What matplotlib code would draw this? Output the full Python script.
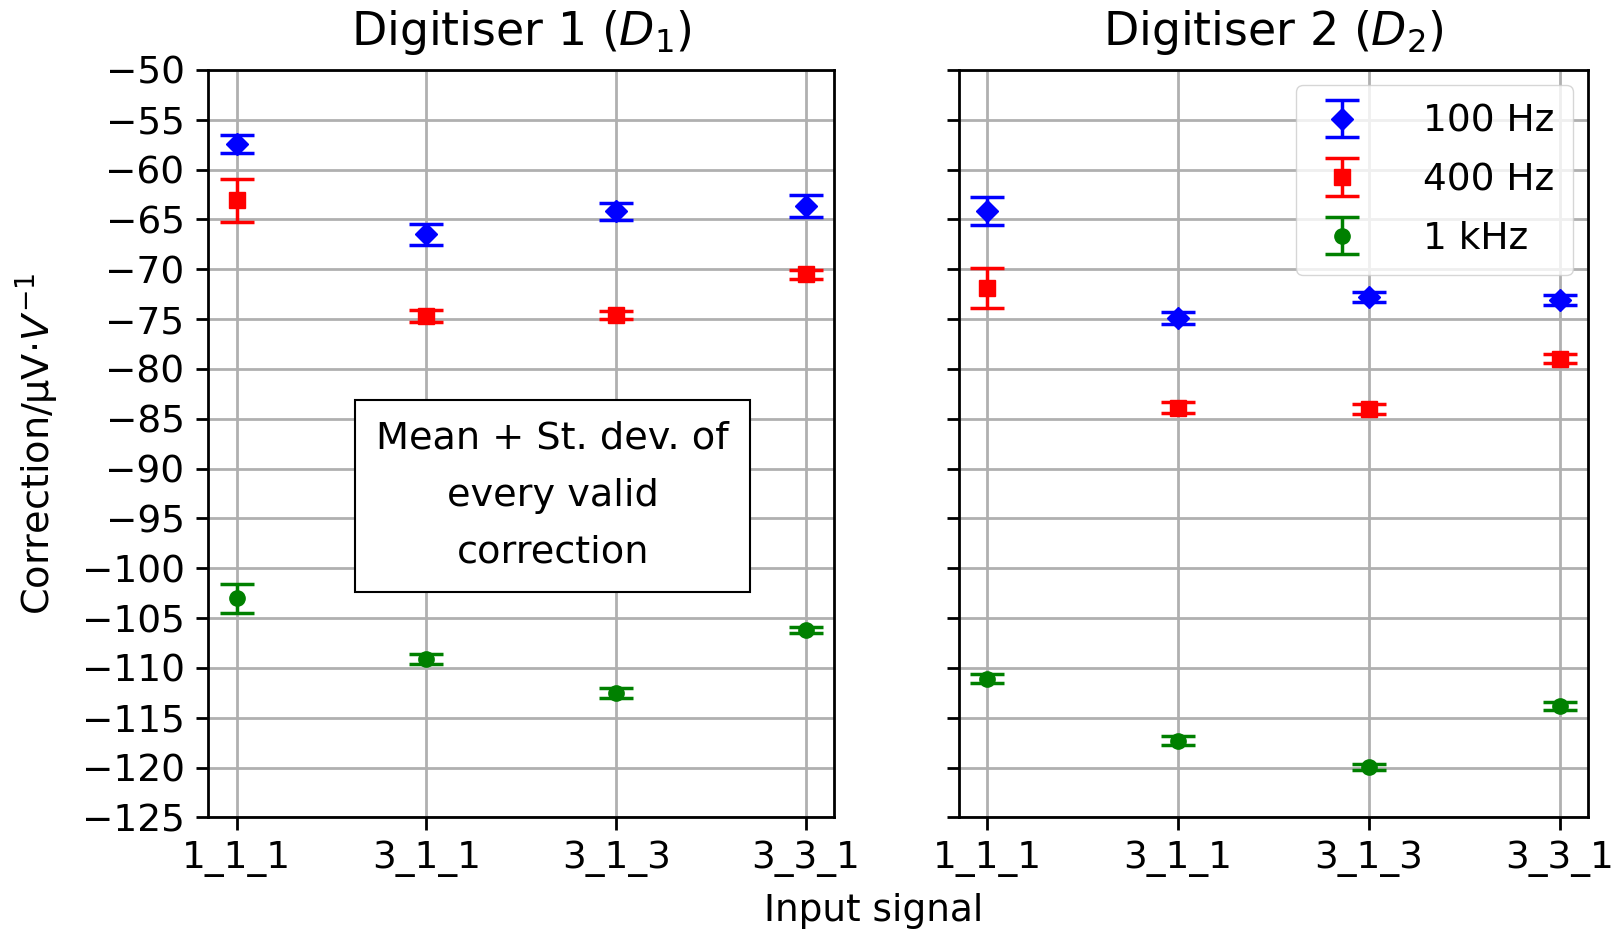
import matplotlib
matplotlib.use("Agg")
import matplotlib.pyplot as plt
import numpy as np

signals = ['1_1_1', '3_1_1', '3_1_3', '3_3_1']

# Digitiser 1
d1_100 = [-57.4, -66.5, -64.2, -63.7]
d1_100_err = [0.9, 1.05, 0.85, 1.1]
d1_400 = [-63.1, -74.7, -74.6, -70.5]
d1_400_err = [2.15, 0.6, 0.4, 0.45]
d1_1k = [-103.0, -109.1, -112.5, -106.2]
d1_1k_err = [1.45, 0.5, 0.5, 0.35]

# Digitiser 2
d2_100 = [-64.2, -74.9, -72.8, -73.1]
d2_100_err = [1.4, 0.6, 0.5, 0.5]
d2_400 = [-71.9, -83.9, -84.0, -79.0]
d2_400_err = [2.0, 0.55, 0.5, 0.45]
d2_1k = [-111.1, -117.3, -119.9, -113.8]
d2_1k_err = [0.45, 0.45, 0.3, 0.4]

FS = 27
plt.rcParams['font.size'] = FS

fig = plt.figure(figsize=(16.14, 9.32), dpi=100)
ax1 = fig.add_axes([0.129, 0.123, 0.388, 0.802])
ax2 = fig.add_axes([0.594, 0.123, 0.390, 0.802], sharey=ax1)

x = np.arange(len(signals))
kw = dict(linestyle='none', markersize=11, capsize=12, elinewidth=2.5, capthick=2.5)

def panel(ax, v100, e100, v400, e400, v1k, e1k):
    ax.errorbar(x, v100, yerr=e100, fmt='D', color='blue', label='100 Hz', **kw)
    ax.errorbar(x, v400, yerr=e400, fmt='s', color='red', label='400 Hz', **kw)
    ax.errorbar(x, v1k, yerr=e1k, fmt='o', color='green', label='1 kHz', **kw)
    ax.set_xticks(x)
    ax.set_xticklabels(signals)
    ax.grid(True, color='#b0b0b0', linewidth=2)
    ax.set_axisbelow(True)
    ax.tick_params(labelsize=FS, length=9, width=2, pad=8)
    for s in ax.spines.values():
        s.set_linewidth(2)

panel(ax1, d1_100, d1_100_err, d1_400, d1_400_err, d1_1k, d1_1k_err)
panel(ax2, d2_100, d2_100_err, d2_400, d2_400_err, d2_1k, d2_1k_err)

ax1.set_ylim(-125, -50)
ax1.set_yticks(np.arange(-125, -49, 5))
plt.setp(ax2.get_yticklabels(), visible=False)

ax1.set_title('Digitiser 1 ($D_1$)', fontsize=33, pad=18)
ax2.set_title('Digitiser 2 ($D_2$)', fontsize=33, pad=18)
ax1.set_ylabel(r'Correction/µV$\cdot V^{-1}$', fontsize=27.5, labelpad=15)
fig.text(0.541, 0.003, 'Input signal', ha='center', va='bottom', fontsize=FS)

ax1.text(0.55, 0.43, 'Mean + St. dev. of\nevery valid\ncorrection', transform=ax1.transAxes,
         ha='center', va='center', fontsize=27.5, linespacing=1.75,
         bbox=dict(boxstyle='square,pad=0.55', facecolor='white', edgecolor='black', linewidth=1.5))

ax2.legend(loc='upper right', fontsize=FS, handlelength=1.5, handletextpad=1.4,
           borderpad=0.5, labelspacing=0.6, borderaxespad=0.4)

fig.savefig('out.png', dpi=100)
